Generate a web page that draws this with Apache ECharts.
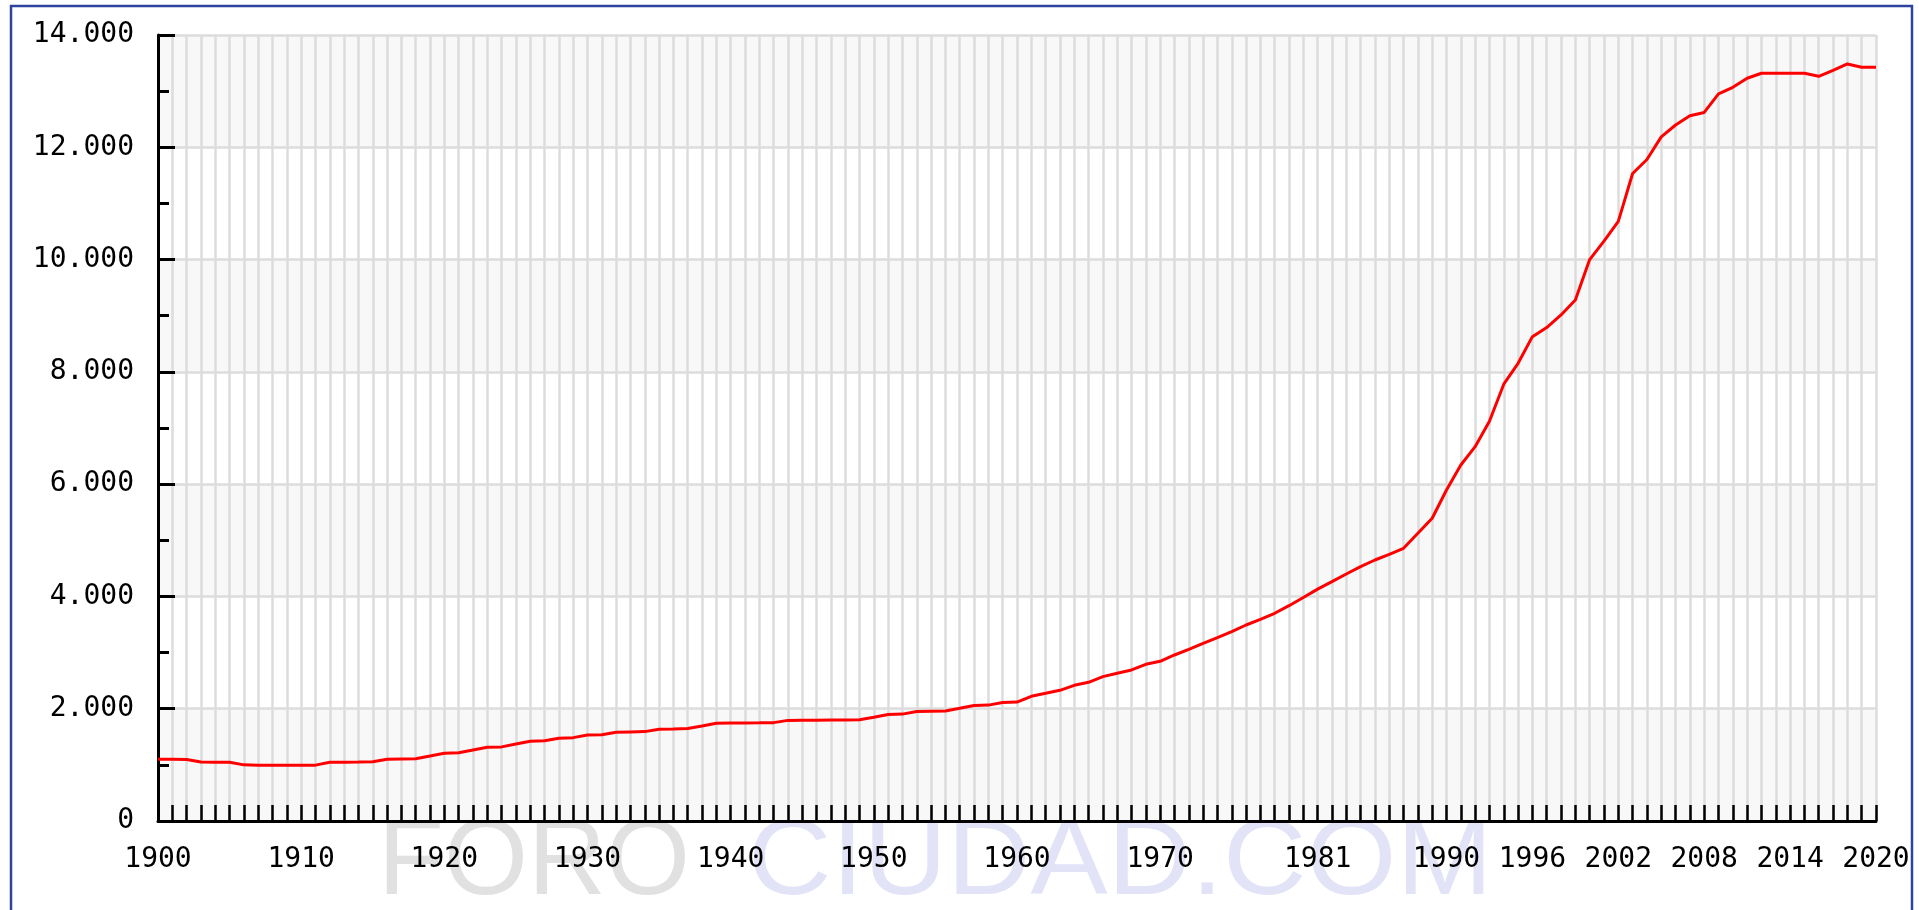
<!DOCTYPE html>
<html>
<head>
<meta charset="utf-8">
<script src="https://cdn.jsdelivr.net/npm/echarts@6/dist/echarts.min.js"></script>
<style>
  html, body { margin: 0; padding: 0; background: #ffffff; }
  #chart { width: 1919px; height: 910px; }
</style>
</head>
<body>
<div id="chart"></div>
<script>
// Years (x positions, linear year scale)
var years = [
  1900,1901,1902,1903,1904,1905,1906,1907,1908,1909,
  1910,1911,1912,1913,1914,1915,1916,1917,1918,1919,
  1920,1921,1922,1923,1924,1925,1926,1927,1928,1929,
  1930,1931,1932,1933,1934,1935,1936,1937,1938,1939,
  1940,1941,1942,1943,1944,1945,1946,1947,1948,1949,
  1950,1951,1952,1953,1954,1955,1956,1957,1958,1959,
  1960,1961,1962,1963,1964,1965,1966,1967,1968,1969,
  1970,1971,1972,1973,1974,1975,1976,1977,1978,1979,
  1980,1981,1982,1983,1984,1985,1986,1987,1988,1989,
  1990,1991,1992,1993,1994,1995,1996,1997,1998,1999,
  2000,2001,2002,2003,2004,2005,2006,2007,2008,2009,
  2010,2011,2012,2013,2014,2015,2016,2017,2018,2019,
  2020
];

// Population values
var population = [
  1100,1100,1095,1050,1048,1045,1000,995,993,993,
  993,995,1045,1048,1050,1055,1100,1105,1110,1157,
  1205,1215,1264,1312,1320,1370,1420,1430,1475,1485,
  1530,1538,1580,1586,1592,1635,1640,1646,1692,1742,
  1745,1747,1749,1752,1792,1794,1796,1798,1800,1803,
  1847,1898,1904,1950,1955,1960,2007,2058,2064,2112,
  2118,2221,2274,2328,2417,2470,2571,2631,2690,2791,
  2845,2957,3058,3165,3265,3372,3491,3593,3700,3835,
  3980,4130,4263,4400,4530,4649,4750,4857,5124,5392,
  5896,6341,6668,7120,7780,8152,8627,8790,9013,9280,
  10000,10330,10680,11533,11782,12186,12397,12563,12621,12950,
  13069,13230,13318,13318,13318,13318,13264,13371,13484,13425,
  13425
];

// Years that carry a label on the x axis
var xLabelYears = [1900,1910,1920,1930,1940,1950,1960,1970,1981,1990,1996,2002,2008,2014,2020];

// Y axis tick values
var yTicks = [0,2000,4000,6000,8000,10000,12000,14000];

var seriesData = years.map(function (y, i) { return [y, population[i]]; });

var labelFont = 'DejaVu Sans Mono';
var chart = echarts.init(document.getElementById('chart'), null, { renderer: 'canvas' });

chart.setOption({
  backgroundColor: '#ffffff',
  animation: false,
  grid: { left: 158, right: 43, top: 35, bottom: 89, containLabel: false },
  graphic: [
    {
      type: 'text', z: -10, left: 378, top: 810,
      style: { text: 'FORO', fill: '#e1e1e1', font: '108px "Liberation Sans"' }
    },
    {
      type: 'text', z: -10, x: 748, y: 810, scaleX: 1.07,
      style: { text: 'CIUDAD.COM', fill: '#e3e3f8', font: '108px "Liberation Sans"' }
    },
    {
      type: 'rect', z: 100, shape: { x: 1913, y: 0, width: 10, height: 910 },
      style: { fill: '#ffffff' }
    },
    {
      type: 'rect', z: 101, shape: { x: 11, y: 6, width: 1901, height: 1000 },
      style: { fill: 'none', stroke: '#2e43a0', lineWidth: 2.5 }
    }
  ],
  xAxis: {
    type: 'value',
    min: 1900, max: 2020, interval: 1,
    axisLine: { show: true, onZero: false, lineStyle: { color: '#000000', width: 3 } },
    axisTick: { show: true, inside: true, length: 16, lineStyle: { color: '#000000', width: 2.5 } },
    splitLine: { show: true, lineStyle: { color: '#dcdcdc', width: 2.5 } },
    axisLabel: {
      show: true,
      margin: 25,
      color: '#000000',
      fontFamily: labelFont,
      fontSize: 28,
      formatter: function (v) {
        return xLabelYears.indexOf(Math.round(v)) >= 0 ? String(Math.round(v)) : '';
      }
    }
  },
  yAxis: {
    type: 'value',
    min: yTicks[0], max: yTicks[yTicks.length - 1], interval: 2000,
    axisLine: { show: true, lineStyle: { color: '#000000', width: 3 } },
    axisTick: { show: true, inside: true, length: 17, lineStyle: { color: '#000000', width: 3 } },
    minorTick: { show: true, splitNumber: 2, length: 11, lineStyle: { color: '#000000', width: 3 } },
    splitLine: { show: true, lineStyle: { color: '#dcdcdc', width: 2.5 } },
    splitArea: { show: true, areaStyle: { color: ['#f8f8f8', '#ffffff'] } },
    axisLabel: {
      show: true,
      margin: 24,
      color: '#000000',
      fontFamily: labelFont,
      fontSize: 28,
      formatter: function (v) {
        if (v === 0) return '0';
        return (v / 1000) + '.000';
      }
    }
  },
  series: [{
    type: 'line',
    data: seriesData,
    showSymbol: false,
    symbol: 'none',
    lineStyle: { color: '#ff0000', width: 3 }
  }]
});
</script>
</body>
</html>
